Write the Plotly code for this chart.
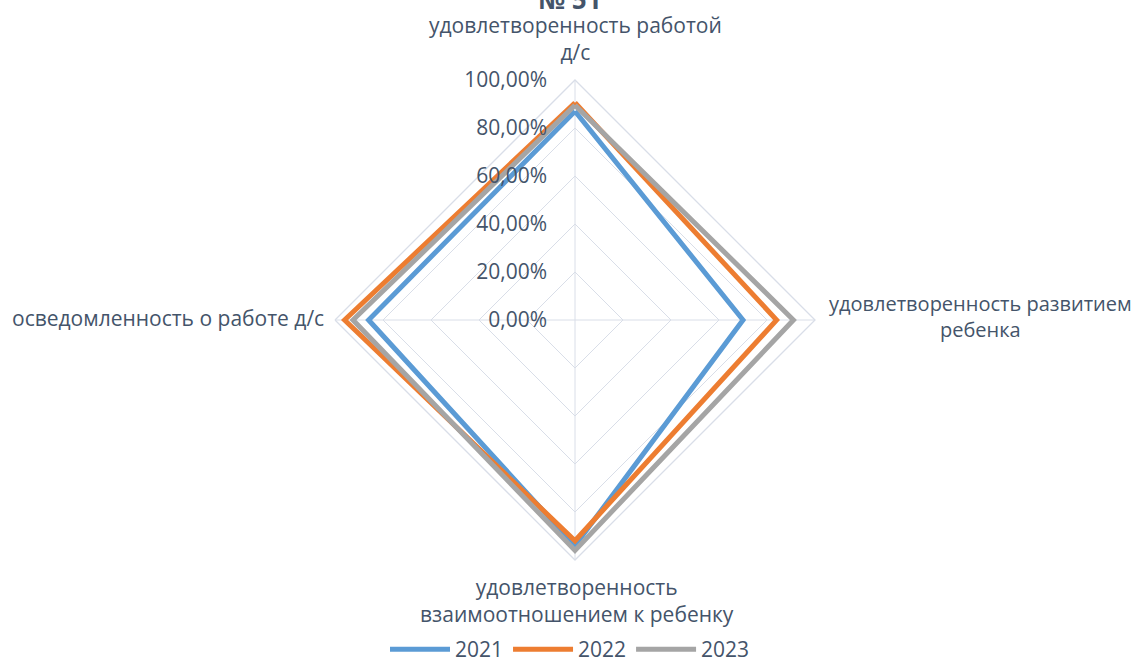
import plotly.graph_objects as go

categories = [
    "удовлетворенность работой д/с",
    "удовлетворенность развитием ребенка",
    "удовлетворенность взаимоотношением к ребенку",
    "осведомленность о работе д/с",
]
category_labels = [
    "удовлетворенность работой<br>д/с",
    "удовлетворенность развитием<br>ребенка",
    "удовлетворенность<br>взаимоотношением к ребенку",
    "осведомленность о работе д/с",
]
years = ["2021", "2022", "2023"]
values_2021 = [0.87, 0.70, 0.94, 0.86]
values_2022 = [0.905, 0.84, 0.92, 0.96]
values_2023 = [0.895, 0.91, 0.96, 0.925]
series = [values_2021, values_2022, values_2023]
colors = ["#5B9BD5", "#ED7D31", "#A5A5A5"]
title_text = "№ 51"
tick_vals = [0, 0.2, 0.4, 0.6, 0.8, 1.0]

TXT = "#44546A"
FONT = "Open Sans"
FS = 21

fig = go.Figure()
for name, vals, col in zip(years, series, colors):
    fig.add_trace(go.Scatterpolar(
        r=vals + [vals[0]],
        theta=categories + [categories[0]],
        mode="lines",
        name=name,
        line=dict(color=col, width=5),
    ))

W, H = 1140, 670
label_pos = [(575, 39, FS), (980, 316, 20), (168, 318, FS), (577, 600, FS)]
label_order = [0, 1, 3, 2]
for i, (px, py, fs) in zip(label_order, label_pos):
    fig.add_annotation(
        text=category_labels[i], x=px / W, y=1 - py / H, xref="paper", yref="paper",
        xanchor="center", yanchor="middle", align="center",
        showarrow=False, font=dict(family=FONT, size=fs, color=TXT),
    )

cx, cy, R = 575, 320, 240
fig.update_layout(
    width=W, height=H,
    margin=dict(l=0, r=0, t=0, b=0),
    paper_bgcolor="white",
    separators=", ",
    font=dict(family=FONT, size=FS, color=TXT),
    title=dict(text="<b>" + title_text + "</b>", x=0.5, xanchor="center",
               y=1.0, yref="container", yanchor="middle", pad=dict(t=0, b=0),
               font=dict(family=FONT, size=26, color=TXT)),
    polar=dict(
        domain=dict(x=[(cx - R) / W, (cx + R) / W], y=[(H - cy - R) / H, (H - cy + R) / H]),
        gridshape="linear",
        bgcolor="white",
        radialaxis=dict(
            range=[0, 1], tickvals=tick_vals, tickformat=".2%",
            angle=90, tickangle=90, side="counterclockwise",
            showline=False, gridcolor="#D9DEE8", gridwidth=1.3,
            ticks="outside", ticklen=20, tickcolor="rgba(0,0,0,0)",
            tickfont=dict(family=FONT, size=FS, color=TXT),
        ),
        angularaxis=dict(
            rotation=90, direction="clockwise",
            showticklabels=False, ticks="",
            gridcolor="#D9DEE8", gridwidth=1.3,
            linecolor="#D9DEE8", linewidth=1.3,
        ),
    ),
    legend=dict(orientation="h", x=0.5, xanchor="center", y=0.0, yanchor="bottom",
                font=dict(family=FONT, size=FS, color=TXT), itemwidth=60),
)

fig.write_html("out.html", config={"displayModeBar": False},
               post_script="document.body.style.margin='0';")
